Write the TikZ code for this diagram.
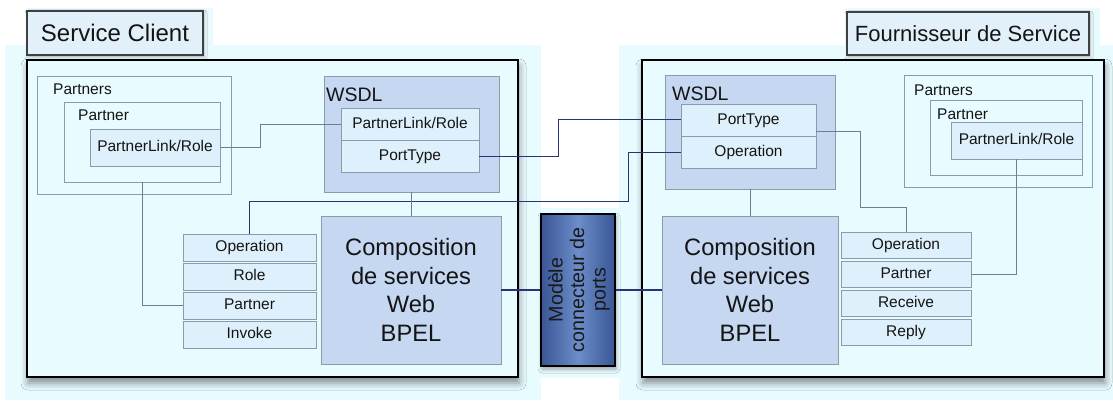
\documentclass[tikz,border=0pt]{standalone}
\usepackage{fontspec}
\setmainfont{Liberation Sans}
\usetikzlibrary{shadows.blur,calc}
\definecolor{bgc}{RGB}{232,251,255}
\definecolor{cellc}{RGB}{222,240,251}
\definecolor{darkc}{RGB}{197,215,241}
\definecolor{grayb}{RGB}{140,155,172}
\definecolor{titlec}{RGB}{226,240,250}
\definecolor{navyc}{RGB}{40,52,120}
\definecolor{linkc}{RGB}{110,125,145}
\definecolor{midl}{RGB}{58,86,148}
\definecolor{midm}{RGB}{108,140,202}
\definecolor{txt}{RGB}{20,20,20}
\begin{document}
\begin{tikzpicture}[x=1pt,y=-1pt,
  every node/.style={inner sep=0pt, text=txt},
  titlebox/.style={draw=black!75, line width=1.8pt, fill=titlec, blur shadow={shadow xshift=1pt, shadow yshift=-2pt, shadow blur radius=3pt, shadow opacity=30}},
  mainbox/.style={draw=black, line width=2.2pt, fill=bgc, blur shadow={shadow xshift=1pt, shadow yshift=-6pt, shadow blur radius=7pt, shadow opacity=45}},
  group/.style={draw=grayb, line width=0.8pt},
  cell/.style={draw=grayb, line width=0.8pt, fill=cellc, font=\fontsize{15.5}{18}\selectfont, text height=11.5pt, text depth=3pt},
  darkbox/.style={draw=grayb, line width=0.8pt, fill=darkc},
  grplabel/.style={anchor=west, font=\fontsize{15.5}{18}\selectfont},
  wsdllabel/.style={anchor=west, font=\fontsize{19.5}{22}\selectfont},
  complabel/.style={align=center, font=\fontsize{23.7}{28.5}\selectfont},
  link/.style={draw=linkc, line width=0.8pt},
  navyline/.style={draw=navyc, line width=1pt},
  thickline/.style={draw=navyc, line width=1.6pt},
]
\useasboundingbox (0,0) rectangle (1113,401);
\fill[white] (0,0) rectangle (1113,401);
% background areas
\fill[bgc] (5,45) rectangle (541,400);
\fill[bgc] (27,8) rectangle (213,45);
\fill[bgc] (619,45) rectangle (1113,400);
\fill[bgc] (845,8) rectangle (1100,45);
\fill[bgc] (541,208) rectangle (619,378);

% main panels
\node[mainbox, minimum width=491pt, minimum height=317pt] (mainL) at (272.5,218.5) {};
\node[titlebox, minimum width=176pt, minimum height=44pt, font=\fontsize{24}{28}\selectfont] (titleL) at (115,33) {Service Client};
\node[mainbox, minimum width=462pt, minimum height=317pt] (mainR) at (873,218.5) {};
\node[titlebox, minimum width=242pt, minimum height=43pt, font=\fontsize{22}{26}\selectfont] (titleR) at (968,33.5) {Fournisseur de Service};

% left side
\node[group, minimum width=194pt, minimum height=118pt] (partnersL) at (134,135) {};
\node[grplabel] (partnersLlbl) at (53,89) {Partners};
\node[group, minimum width=156pt, minimum height=80pt] (partnerL) at (142,142) {};
\node[grplabel] (partnerLlbl) at (78,115) {Partner};
\node[cell, minimum width=130pt, minimum height=37pt] (plrL) at (155,147.5) {PartnerLink/Role};

\node[darkbox, minimum width=175pt, minimum height=116pt] (wsdlL) at (411.5,134) {};
\node[wsdllabel] (wsdlLlbl) at (326,95) {WSDL};
\node[cell, minimum width=138pt, minimum height=32pt] (plrW) at (410,124) {PartnerLink/Role};
\node[cell, minimum width=138pt, minimum height=32pt] (ptW) at (410,156) {PortType};

\node[darkbox, complabel, minimum width=180pt, minimum height=148pt] (compL) at (411,290) {Composition\\de services\\Web\\BPEL};
\node[cell, minimum width=133pt, minimum height=27pt] (opL) at (249.5,247.5) {Operation};
\node[cell, minimum width=133pt, minimum height=27pt] (roleL) at (249.5,276.5) {Role};
\node[cell, minimum width=133pt, minimum height=27pt] (partL) at (249.5,305.5) {Partner};
\node[cell, minimum width=133pt, minimum height=27pt] (invL) at (249.5,334.5) {Invoke};

% right side
\node[darkbox, minimum width=170pt, minimum height=114pt] (wsdlR) at (750,132) {};
\node[wsdllabel] (wsdlRlbl) at (672,94) {WSDL};
\node[cell, minimum width=135pt, minimum height=32pt] (ptR) at (748.5,120) {PortType};
\node[cell, minimum width=135pt, minimum height=32pt] (opwR) at (748.5,152) {Operation};

\node[group, minimum width=188pt, minimum height=112pt] (partnersR) at (998,131) {};
\node[grplabel] (partnersRlbl) at (914,90) {Partners};
\node[group, minimum width=152pt, minimum height=75pt] (partnerR) at (1006,137.5) {};
\node[grplabel] (partnerRlbl) at (937,114) {Partner};
\node[cell, minimum width=131pt, minimum height=37pt] (plrR) at (1016.5,140.5) {PartnerLink/Role};

\node[darkbox, complabel, minimum width=176pt, minimum height=148pt] (compR) at (750,290) {Composition\\de services\\Web\\BPEL};
\node[cell, minimum width=130pt, minimum height=26pt] (opR) at (906,245) {Operation};
\node[cell, minimum width=130pt, minimum height=26pt] (partR) at (906,274) {Partner};
\node[cell, minimum width=130pt, minimum height=26pt] (recR) at (906,303) {Receive};
\node[cell, minimum width=130pt, minimum height=26pt] (repR) at (906,332) {Reply};

% middle connector model
\node[draw=black, line width=2pt, left color=midl, right color=midl, middle color=midm, minimum width=74pt, minimum height=152pt, blur shadow={shadow xshift=1pt, shadow yshift=-3pt, shadow blur radius=4pt, shadow opacity=35}] (mid) at (578,290) {};
\node[rotate=90, align=center, font=\fontsize{19.7}{21.5}\selectfont, text=black!90] (midtext) at (579,290) {Modèle\\connecteur de\\ports};

% connectors
\coordinate (b1) at (628,201);
\coordinate (b2) at (860,207);
\draw[link] (plrL.east) -- ++(40,0) |- (plrW.west);
\draw[navyline] (ptW.east) -- ++(79,0) |- (ptR.west);
\draw[navyline] (opwR.west) -| (b1) -| (opL.north);
\draw[link] (partnerL.south) |- (partL.west);
\draw[link] (wsdlL.south) -- (wsdlL.south |- compL.north);
\draw[thickline] (compL.east) -- (mid.west);
\draw[thickline] (mid.east) -- (compR.west);
\draw[link] (wsdlR.south) -- (wsdlR.south |- compR.north);
\draw[link] ([yshift=-11pt]ptR.east) -| (b2) -| (opR.north);
\draw[link] (partR.east) -| (plrR.south);
\end{tikzpicture}
\end{document}
